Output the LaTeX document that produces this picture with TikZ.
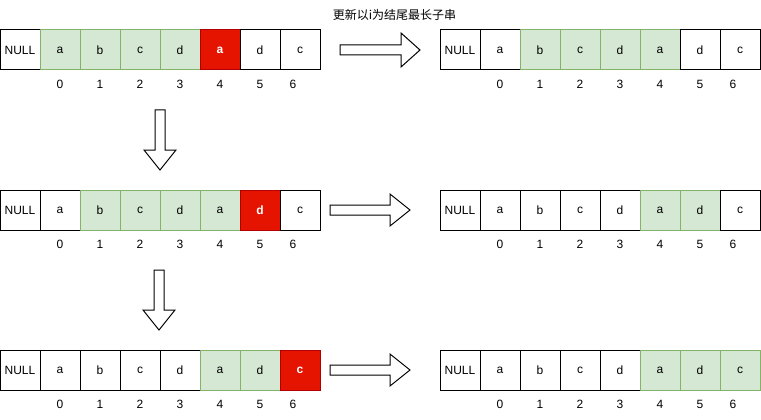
\documentclass[tikz,border=0pt]{standalone}
\usepackage{fontspec}
\setmainfont{Liberation Sans}
\newfontfamily\cjk{Noto Sans CJK SC}
\definecolor{gfill}{HTML}{D5E8D4}
\definecolor{gline}{HTML}{82B366}
\definecolor{rfill}{HTML}{E51400}
\definecolor{rline}{HTML}{B20000}
\tikzset{
 cell/.style={minimum width=40pt, minimum height=40pt, inner sep=0pt, line width=1pt, font=\fontsize{12pt}{14pt}\selectfont, anchor=center},
 wc/.style={cell, draw=black, fill=white},
 gc/.style={cell, draw=gline, fill=gfill},
 rc/.style={cell, draw=rline, fill=rfill, text=white, font=\fontsize{12pt}{14pt}\selectfont\bfseries},
 idx/.style={font=\fontsize{12pt}{14pt}\selectfont, inner sep=0pt},
 blockarrow/.style={draw=black, fill=white, line width=1pt, line join=miter},
}
% name, x0, y0, list of text/style
\newcommand\cellrow[4]{%
  \foreach \t/\s [count=\i from 0] in {#4} {\node[\s] (#1-\i) at ({#2+20+40*\i},{#3+20}) {\t};}
  \foreach \k in {0,...,5} {\node[idx] (#1-i\k) at ({#2+60+40*\k},{#3+54.5}) {\k};}
  \node[idx] (#1-i6) at ({#2+293},{#3+54.5}) {6};
}
\newcommand\rightblock[5]{% x0, yc, len, headlen, halfhead
  \draw[blockarrow] (#1,#2-5) -- ({#1+#3-#4},#2-5) -- ({#1+#3-#4},#2-#5) -- ({#1+#3},#2)
    -- ({#1+#3-#4},#2+#5) -- ({#1+#3-#4},#2+5) -- (#1,#2+5) -- cycle;
}
\newcommand\downblock[2]{% xc, ytop
  \draw[blockarrow] (#1-5,#2) -- (#1+5,#2) -- (#1+5,#2+40) -- (#1+16,#2+40) -- (#1,#2+60)
    -- (#1-16,#2+40) -- (#1-5,#2+40) -- cycle;
}
\begin{document}
\begin{tikzpicture}[x=1pt,y=-1pt]
\useasboundingbox (0,0) rectangle (761,420);
\node[font=\cjk\fontsize{12pt}{14pt}\selectfont, inner sep=0pt] (title) at (394.5,15) {更新以i为结尾最长子串};
% row 1
\cellrow{aL}{0}{30}{NULL/wc,a/gc,b/gc,c/gc,d/gc,a/rc,d/wc,c/wc}
\cellrow{aR}{440}{30}{NULL/wc,a/wc,b/gc,c/gc,d/gc,a/gc,d/wc,c/wc}
% row 2
\cellrow{bL}{0}{190}{NULL/wc,a/wc,b/gc,c/gc,d/gc,a/gc,d/rc,c/wc}
\cellrow{bR}{440}{190}{NULL/wc,a/wc,b/wc,c/wc,d/wc,a/gc,d/gc,c/wc}
% row 3
\cellrow{cL}{0}{350}{NULL/wc,a/wc,b/wc,c/wc,d/wc,a/gc,d/gc,c/rc}
\cellrow{cR}{440}{350}{NULL/wc,a/wc,b/wc,c/wc,d/wc,a/gc,d/gc,c/gc}
% block arrows
\rightblock{340}{50}{80}{19}{17}
\rightblock{330}{210}{80}{20}{16}
\rightblock{330}{370}{80}{20}{16}
\downblock{160}{110}
\downblock{159}{270}
\end{tikzpicture}
\end{document}
